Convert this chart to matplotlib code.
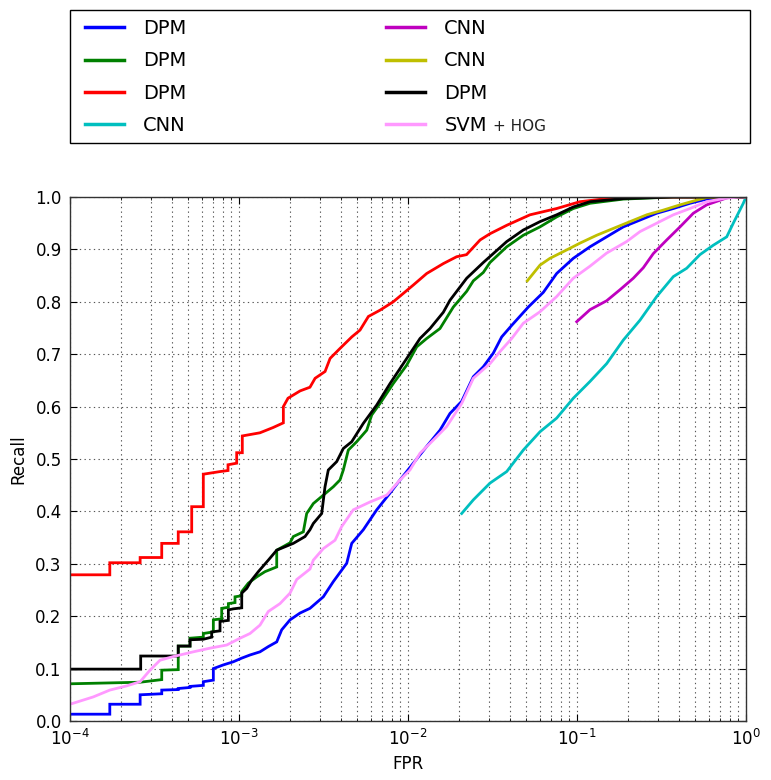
import matplotlib
matplotlib.use("Agg")
import matplotlib.pyplot as plt
from matplotlib.patches import Rectangle

# ---------------- data ----------------
labels = ["DPM", "DPM", "DPM", "CNN", "CNN", "CNN", "DPM", "SVM"]
colors = ["#0000ff", "#008000", "#ff0000", "#00bfbf", "#bf00bf", "#bfbf00", "#000000", "#ff99ff"]

blue_fpr = [1e-4, 1.72e-4, 1.72e-4, 2.6e-4, 2.6e-4, 3.49e-4, 3.49e-4, 4.37e-4, 4.37e-4, 5.13e-4,
            5.13e-4, 6.15e-4, 6.15e-4, 7.05e-4, 7.05e-4, 8.07e-4, 9.25e-4, 1.038e-3, 1.162e-3, 1.331e-3,
            1.491e-3, 1.672e-3, 1.789e-3, 2.004e-3, 2.296e-3, 2.63e-3, 3.154e-3, 3.614e-3, 4.339e-3, 4.645e-3,
            5.44e-3, 6.53e-3, 7.83e-3, 8.97e-3, 1.075e-2, 1.29e-2, 1.546e-2, 1.772e-2, 2.078e-2, 2.435e-2,
            2.79e-2, 3.196e-2, 3.584e-2, 4.108e-2, 5.15e-2, 6.32e-2, 7.58e-2, 9.51e-2, 0.1194, 0.1498,
            0.188, 0.236, 0.2962, 0.3714, 0.4662, 0.5855, 0.734, 1.0]
blue_rec = [0.013, 0.013, 0.032, 0.032, 0.050, 0.052, 0.059, 0.060, 0.062, 0.064,
            0.066, 0.068, 0.075, 0.078, 0.100, 0.107, 0.113, 0.120, 0.126, 0.132,
            0.142, 0.151, 0.174, 0.193, 0.206, 0.215, 0.237, 0.266, 0.301, 0.339,
            0.365, 0.403, 0.435, 0.460, 0.492, 0.524, 0.555, 0.587, 0.610, 0.657,
            0.676, 0.702, 0.733, 0.755, 0.790, 0.818, 0.854, 0.883, 0.905, 0.924,
            0.943, 0.956, 0.969, 0.978, 0.988, 0.996, 0.999, 1.0]

green_fpr = [1e-4, 2.6e-4, 3.49e-4, 3.49e-4, 4.37e-4, 4.37e-4, 5.13e-4, 5.13e-4, 6.15e-4, 6.15e-4,
             7.05e-4, 7.05e-4, 7.90e-4, 7.90e-4, 8.65e-4, 8.65e-4, 9.47e-4, 9.47e-4, 1.038e-3, 1.038e-3,
             1.135e-3, 1.273e-3, 1.425e-3, 1.672e-3, 1.672e-3, 2.004e-3, 2.096e-3, 2.402e-3, 2.515e-3, 2.753e-3,
             3.154e-3, 3.614e-3, 3.959e-3, 4.142e-3, 4.434e-3, 4.97e-3, 5.70e-3, 6.10e-3, 6.83e-3, 8.18e-3,
             9.82e-3, 1.126e-2, 1.29e-2, 1.546e-2, 1.854e-2, 2.225e-2, 2.435e-2, 2.79e-2, 3.056e-2, 3.84e-2,
             4.81e-2, 6.04e-2, 7.58e-2, 9.51e-2, 0.1194, 0.188, 0.37, 1.0]
green_rec = [0.071, 0.074, 0.079, 0.097, 0.098, 0.143, 0.143, 0.158, 0.160, 0.167,
             0.170, 0.193, 0.195, 0.215, 0.217, 0.224, 0.226, 0.237, 0.239, 0.247,
             0.263, 0.275, 0.285, 0.294, 0.326, 0.340, 0.352, 0.361, 0.396, 0.415,
             0.431, 0.447, 0.460, 0.479, 0.517, 0.533, 0.555, 0.584, 0.606, 0.644,
             0.679, 0.714, 0.730, 0.749, 0.790, 0.820, 0.840, 0.856, 0.875, 0.905,
             0.927, 0.943, 0.962, 0.978, 0.988, 0.996, 1.0, 1.0]

red_fpr = [1e-4, 1.72e-4, 1.72e-4, 2.6e-4, 2.6e-4, 3.49e-4, 3.49e-4, 4.37e-4, 4.37e-4, 5.25e-4,
           5.25e-4, 6.15e-4, 6.15e-4, 7.72e-4, 8.61e-4, 8.61e-4, 9.69e-4, 9.69e-4, 1.046e-3, 1.046e-3,
           1.33e-3, 1.59e-3, 1.83e-3, 1.83e-3, 1.95e-3, 2.30e-3, 2.63e-3, 2.82e-3, 3.23e-3, 3.46e-3,
           3.96e-3, 4.65e-3, 5.20e-3, 5.83e-3, 6.83e-3, 8.18e-3, 9.38e-3, 1.075e-2, 1.29e-2, 1.62e-2,
           1.94e-2, 2.22e-2, 2.67e-2, 3.06e-2, 3.84e-2, 5.27e-2, 7.58e-2, 0.104, 0.150, 0.236,
           0.37, 1.0]
red_rec = [0.279, 0.279, 0.302, 0.302, 0.312, 0.312, 0.339, 0.339, 0.361, 0.361,
           0.409, 0.409, 0.471, 0.476, 0.478, 0.489, 0.492, 0.512, 0.512, 0.544,
           0.550, 0.560, 0.569, 0.600, 0.616, 0.630, 0.637, 0.654, 0.667, 0.692,
           0.711, 0.733, 0.746, 0.772, 0.784, 0.800, 0.816, 0.832, 0.854, 0.873,
           0.886, 0.890, 0.918, 0.930, 0.946, 0.966, 0.978, 0.991, 0.997, 1.0,
           1.0, 1.0]

cyan_fpr = [2.078e-2, 2.435e-2, 3.056e-2, 3.837e-2, 4.81e-2, 6.04e-2, 7.58e-2, 9.51e-2, 0.1194, 0.1498,
            0.188, 0.236, 0.2962, 0.3714, 0.4457, 0.534, 0.6406, 0.769, 0.841, 0.964, 1.0]
cyan_rec = [0.396, 0.422, 0.454, 0.476, 0.517, 0.552, 0.578, 0.616, 0.648, 0.682,
            0.727, 0.765, 0.810, 0.848, 0.864, 0.890, 0.908, 0.924, 0.950, 0.988, 1.0]

magenta_fpr = [9.96e-2, 0.1194, 0.1498, 0.1796, 0.2154, 0.2468, 0.2828, 0.3395, 0.407, 0.4878,
               0.5855, 0.734, 0.804, 1.0]
magenta_rec = [0.762, 0.785, 0.802, 0.823, 0.845, 0.865, 0.892, 0.918, 0.943, 0.969,
               0.985, 0.996, 1.0, 1.0]

yellow_fpr = [5.08e-2, 6.04e-2, 6.92e-2, 8.69e-2, 0.1042, 0.1308, 0.164, 0.206, 0.2585, 0.324,
              0.407, 0.511, 0.5855, 0.702, 1.0]
yellow_rec = [0.840, 0.870, 0.883, 0.899, 0.912, 0.927, 0.940, 0.953, 0.966, 0.975,
              0.985, 0.994, 0.999, 1.0, 1.0]

black_fpr = [1e-4, 2.62e-4, 2.62e-4, 4.37e-4, 4.37e-4, 5.13e-4, 5.13e-4, 6.15e-4, 6.89e-4, 6.89e-4,
             7.72e-4, 7.72e-4, 8.65e-4, 8.65e-4, 9.25e-4, 1.038e-3, 1.038e-3, 1.111e-3, 1.189e-3, 1.301e-3,
             1.491e-3, 1.672e-3, 2.096e-3, 2.458e-3, 2.63e-3, 2.753e-3, 3.086e-3, 3.228e-3, 3.376e-3, 3.785e-3,
             4.142e-3, 4.645e-3, 5.44e-3, 6.53e-3, 7.83e-3, 9.38e-3, 1.178e-2, 1.35e-2, 1.618e-2, 1.772e-2,
             2.225e-2, 2.79e-2, 3.84e-2, 4.81e-2, 6.04e-2, 7.58e-2, 9.51e-2, 0.1194, 0.188, 0.37, 1.0]
black_rec = [0.099, 0.099, 0.124, 0.124, 0.143, 0.143, 0.155, 0.156, 0.160, 0.170,
             0.172, 0.190, 0.192, 0.212, 0.214, 0.216, 0.244, 0.253, 0.269, 0.285,
             0.307, 0.326, 0.339, 0.352, 0.365, 0.377, 0.396, 0.447, 0.479, 0.495,
             0.520, 0.533, 0.568, 0.603, 0.644, 0.682, 0.730, 0.749, 0.780, 0.803,
             0.845, 0.875, 0.915, 0.937, 0.953, 0.966, 0.981, 0.991, 0.997, 1.0, 1.0]

pink_fpr = [1e-4, 1.374e-4, 1.72e-4, 2.165e-4, 2.6e-4, 2.974e-4, 3.41e-4, 4.085e-4, 5.365e-4, 6.735e-4,
            8.46e-4, 1.014e-3, 1.162e-3, 1.331e-3, 1.491e-3, 1.748e-3, 2.004e-3, 2.195e-3, 2.63e-3, 2.753e-3,
            3.154e-3, 3.70e-3, 4.05e-3, 4.746e-3, 5.96e-3, 7.48e-3, 8.97e-3, 1.027e-2, 1.178e-2, 1.411e-2,
            1.694e-2, 2.078e-2, 2.435e-2, 3.056e-2, 3.503e-2, 4.108e-2, 4.81e-2, 6.04e-2, 7.58e-2, 9.51e-2,
            0.1194, 0.1498, 0.1968, 0.236, 0.2962, 0.3714, 0.4662, 0.5855, 0.734, 0.922, 1.0]
pink_rec = [0.032, 0.046, 0.059, 0.067, 0.075, 0.097, 0.116, 0.123, 0.132, 0.139,
            0.145, 0.158, 0.167, 0.183, 0.209, 0.224, 0.244, 0.270, 0.290, 0.307,
            0.329, 0.345, 0.371, 0.403, 0.418, 0.431, 0.460, 0.479, 0.511, 0.536,
            0.562, 0.606, 0.654, 0.682, 0.705, 0.730, 0.759, 0.781, 0.810, 0.845,
            0.868, 0.893, 0.915, 0.934, 0.950, 0.966, 0.978, 0.991, 0.997, 1.0, 1.0]

series = [(blue_fpr, blue_rec), (green_fpr, green_rec), (red_fpr, red_rec), (cyan_fpr, cyan_rec),
          (magenta_fpr, magenta_rec), (yellow_fpr, yellow_rec), (black_fpr, black_rec), (pink_fpr, pink_rec)]

x_label = "FPR"
y_label = "Recall"
y_ticks = [0.0, 0.1, 0.2, 0.3, 0.4, 0.5, 0.6, 0.7, 0.8, 0.9, 1.0]

# ---------------- figure ----------------
W, H = 771, 780
fig = plt.figure(figsize=(W / 100, H / 100), dpi=100, facecolor="white")
ax = fig.add_axes([70 / W, 1 - 721 / H, 676 / W, 524 / H])

handles = []
for (fx, ry), c in zip(series, colors):
    ln, = ax.plot(fx, ry, color=c, lw=2.0, solid_joinstyle="miter")
    handles.append(ln)

ax.set_xscale("log")
ax.set_xlim(1e-4, 1.0)
ax.set_ylim(0.0, 1.0)
ax.set_yticks(y_ticks)
ax.set_yticklabels([f"{v:.1f}" for v in y_ticks])
grid_kw = dict(ls=(0, (1.2, 3.0)), color="#555555", lw=0.8)
ax.grid(True, which="major", axis="y", **grid_kw)
ax.grid(True, which="both", axis="x", **grid_kw)
ax.tick_params(which="both", direction="in", top=True, right=True, labelsize=12, pad=6)
ax.tick_params(which="major", length=5)
ax.tick_params(which="minor", length=2.5)
for s in ax.spines.values():
    s.set_linewidth(1.0)
    s.set_color("#333333")
ax.set_xlabel(x_label, fontsize=12, labelpad=4)
ax.set_ylabel(y_label, fontsize=12, labelpad=6)

# ---------------- legend ----------------
leg_kw = dict(loc="upper left", frameon=False, borderpad=0, borderaxespad=0,
              handlelength=2.0, handletextpad=1.0, labelspacing=0.69, fontsize=14)
leg1 = fig.legend(handles[:4], labels[:4], bbox_to_anchor=(85 / W, 1 - 19 / H), **leg_kw)
leg2 = fig.legend(handles[4:], labels[4:], bbox_to_anchor=(386 / W, 1 - 19 / H), **leg_kw)
for lh in list(leg1.get_lines()) + list(leg2.get_lines()):
    lh.set_linewidth(2.5)

fig.add_artist(Rectangle((70 / W, 1 - 143 / H), 680 / W, 133 / H, transform=fig.transFigure,
                         fill=False, edgecolor="black", lw=1.0))

fig.canvas.draw()
renderer = fig.canvas.get_renderer()
svm_txt = leg2.get_texts()[3]
bb = svm_txt.get_window_extent(renderer)
_, _, d = renderer.get_text_width_height_descent("lp", svm_txt.get_fontproperties(), ismath=False)
baseline = bb.y0 + d
fig.text((bb.x1 + 6) / fig.bbox.width, baseline / fig.bbox.height, "+ HOG",
         fontsize=11, va="baseline", ha="left", color="#222222")

fig.savefig("out.png", dpi=100, facecolor="white")
